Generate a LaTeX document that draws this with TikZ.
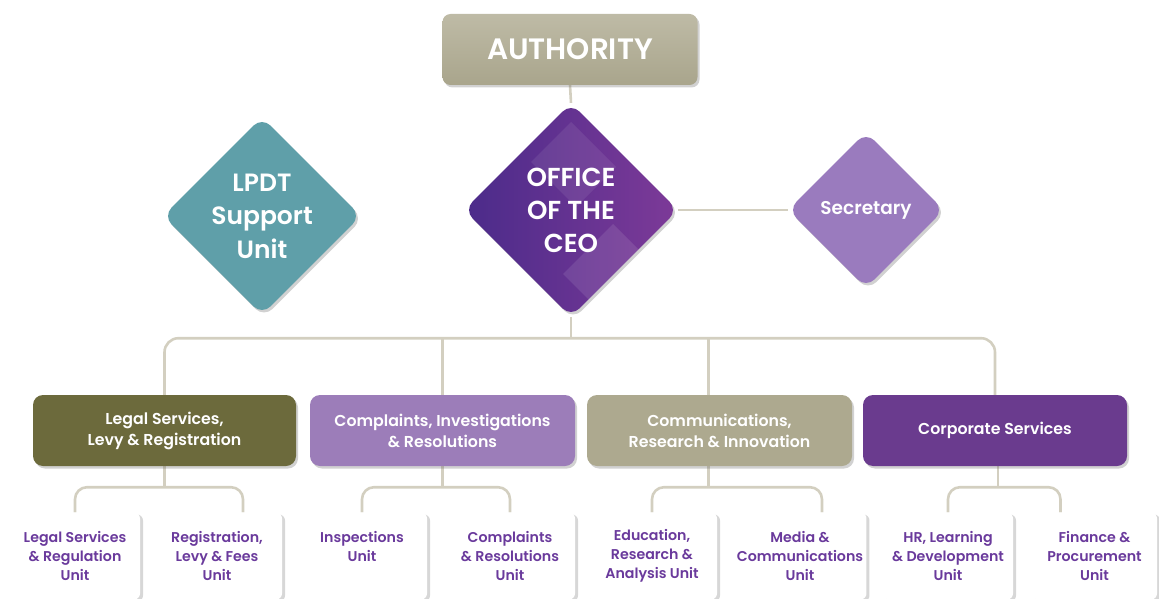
\documentclass[tikz,border=0pt]{standalone}
\usepackage{fontspec}
\setmainfont{Poppins}[BoldFont={Poppins SemiBold}]
\usetikzlibrary{shapes.geometric,shadows,calc,backgrounds}
\definecolor{authC}{HTML}{B7B39C}
\definecolor{authD}{HTML}{A9A58C}
\definecolor{lineC}{HTML}{D3CFC0}
\definecolor{ceoL}{HTML}{4B2B8A}
\definecolor{ceoR}{HTML}{7D3A98}
\definecolor{lpdtC}{HTML}{5F9FA9}
\definecolor{secC}{HTML}{9A7BBE}
\definecolor{legalC}{HTML}{6C6A3C}
\definecolor{complC}{HTML}{9C7DB9}
\definecolor{commC}{HTML}{ADA98F}
\definecolor{corpC}{HTML}{6A3B8E}
\definecolor{unitC}{HTML}{6A3A9C}
\begin{document}
\begin{tikzpicture}[x=1pt,y=-1pt,
  conn/.style={draw=lineC, line width=2.6pt},
  shad/.style={drop shadow={shadow xshift=2pt,shadow yshift=-2.5pt,opacity=0.3,fill=black!60}},
  topbox/.style={rectangle, rounded corners=8pt, minimum width=255pt, minimum height=71pt, top color=authC!90!white, bottom color=authD, text=white, font=\bfseries\fontsize{29.5}{33}\selectfont, shad},
  dia/.style={diamond, aspect=1, rounded corners=12pt, inner sep=0pt, shad},
  diatext/.style={text=white, align=center, font=\bfseries\fontsize{26}{33}\selectfont},
  lvtwo/.style={rectangle, rounded corners=10pt, minimum height=71pt, text=white, align=center, font=\bfseries\fontsize{15.8}{21}\selectfont, shad},
  unit/.style={rectangle, rounded corners=6pt, fill=white, minimum width=130pt, minimum height=87pt, text=unitC, align=center, font=\bfseries\fontsize{14.2}{19}\selectfont, drop shadow={shadow xshift=3pt,shadow yshift=-2pt,opacity=0.35,fill=black!45}}
]
\useasboundingbox (0,0) rectangle (1159,599);

% top
\node[topbox] (auth) at (570,49.5) {AUTHORITY};
\node[dia, minimum width=214pt, minimum height=214pt, left color=ceoL, right color=ceoR,
      path picture={
        \fill[white, opacity=0.08, sharp corners] ([shift={(0,-88)}]path picture bounding box.center) -- ++(45,45) -- ++(-40,40) -- ++(-45,-45) -- cycle;
        \fill[white, opacity=0.10, sharp corners] ([shift={(42,14)}]path picture bounding box.center) -- ++(40,40) -- ++(-50,50) -- ++(-40,-40) -- cycle;
      },
      label={[diatext]center:OFFICE\\OF THE\\CEO}] (ceo) at (571,210) {};
\node[dia, minimum width=198pt, minimum height=198pt, fill=lpdtC,
      label={[diatext, font=\bfseries\fontsize{25}{33.5}\selectfont]center:LPDT\\Support\\Unit}] (lpdt) at (262,216) {};
\node[dia, minimum width=156pt, minimum height=156pt, fill=secC,
      label={[diatext, font=\bfseries\fontsize{18.5}{20}\selectfont]center:Secretary}] (sec) at (866,210) {};

% level two
\node[lvtwo, minimum width=263pt, fill=legalC] (legal) at (164.5,430.5) {Legal Services,\\Levy \& Registration};
\node[lvtwo, minimum width=265pt, fill=complC] (compl) at (442.5,430.5) {Complaints, Investigations\\\& Resolutions};
\node[lvtwo, minimum width=265pt, fill=commC] (comm) at (719.5,430.5) {Communications,\\Research \& Innovation};
\node[lvtwo, minimum width=264pt, fill=corpC] (corp) at (995,430.5) {Corporate Services};

% units
\node[unit] (u1) at (75,556) {Legal Services\\\& Regulation\\Unit};
\node[unit] (u2) at (217,556) {Registration,\\Levy \& Fees\\Unit};
\node[unit] (u3) at (362,556) {Inspections\\Unit\\~};
\node[unit] (u4) at (510,556) {Complaints\\\& Resolutions\\Unit};
\node[unit] (u5) at (652,556) {Education,\\Research \&\\Analysis Unit};
\node[unit] (u6) at (800,556) {Media \&\\Communications\\Unit};
\node[unit] (u7) at (948,556) {HR, Learning\\\& Development\\Unit};
\node[unit, minimum width=125pt] (u8) at (1094.5,556) {Finance \&\\Procurement\\Unit};

\begin{scope}[on background layer]
  \draw[conn] (auth.south) -- (ceo.north);
  \draw[conn] (ceo.east) -- (sec.west);
  \coordinate (trunk) at ($(ceo.south)+(0,21)$);
  \draw[conn] (ceo.south) -- (trunk);
  \draw[conn, rounded corners=14pt] (legal.north) |- (trunk) -| (corp.north);
  \draw[conn] (compl.north) -- (compl.north |- trunk);
  \draw[conn] ([xshift=-11pt]comm.north) -- ([xshift=-11pt]comm.north |- trunk);
  % sub bars
  \coordinate (s1) at ($(legal.south)+(0,21)$);
  \draw[conn] (legal.south) -- (s1);
  \draw[conn, rounded corners=12pt] (u1.north) |- (s1) -| ([xshift=26pt]u2.north);
  \coordinate (s2) at ($(compl.south)+(0,21)$);
  \draw[conn] (compl.south) -- (s2);
  \draw[conn, rounded corners=12pt] (u3.north) |- (s2) -| (u4.north);
  \coordinate (s3) at ($(comm.south)+(-11,21)$);
  \draw[conn] ([xshift=-11pt]comm.south) -- (s3);
  \draw[conn, rounded corners=12pt] (u5.north) |- (s3) -| ([xshift=22pt]u6.north);
  \coordinate (s4) at ($(corp.south)+(3,21)$);
  \draw[conn] ([xshift=3pt]corp.south) -- (s4);
  \draw[conn, rounded corners=12pt] (u7.north) |- (s4) -| ([xshift=-34pt]u8.north);
\end{scope}
\end{tikzpicture}
\end{document}
